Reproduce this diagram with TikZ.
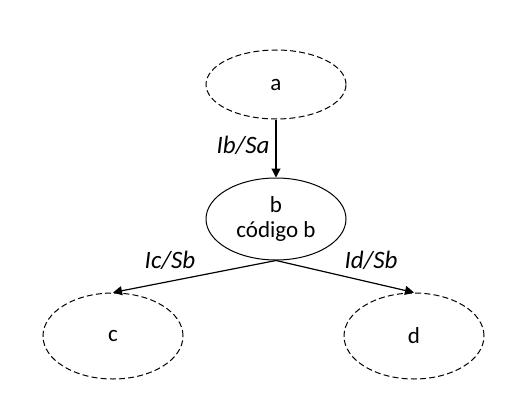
\documentclass[tikz,border=0pt]{standalone}
\usepackage{fontspec}
\setmainfont{Carlito}
\usepackage{tikz}
\usetikzlibrary{positioning}
\usetikzlibrary{shapes.geometric}
\usetikzlibrary{arrows.meta}

\tikzset{
state/.style={ellipse, draw, line width=0.5pt, minimum width=70pt, minimum height=34.5pt, inner sep=0pt},
open/.style={state, dash pattern=on 3pt off 1.6pt},
flow/.style={line width=0.6pt, -{Triangle[length=4.5pt,width=4.5pt]}},
lbl/.style={font=\fontsize{12.5}{14}\selectfont\itshape, inner sep=0pt}
}

\begin{document}
\begin{tikzpicture}[x=0.5pt, y=-0.5pt, font=\fontsize{11.5}{12.5}\selectfont]

\useasboundingbox (0,0) rectangle (523,417);

\node[open] (a) at (276,84.5) {a};

\node[state, minimum height=41pt, align=center] (b) at (276,219) {b\\código b};

\node[open, minimum height=43pt] (c) at (113,336) {c};
\node[open, minimum height=43pt] (d) at (414,336) {d};


\draw[flow] (a) -- (b);
\draw[flow] (b.south) -- (c.north);
\draw[flow] (b.south) -- (d.north);

\node[lbl] (lab) at (243,145) {Ib/Sa};
\node[lbl] (lbc) at (170,260) {Ic/Sb};
\node[lbl] (lbd) at (371,260) {Id/Sb};

\end{tikzpicture}
\end{document}
